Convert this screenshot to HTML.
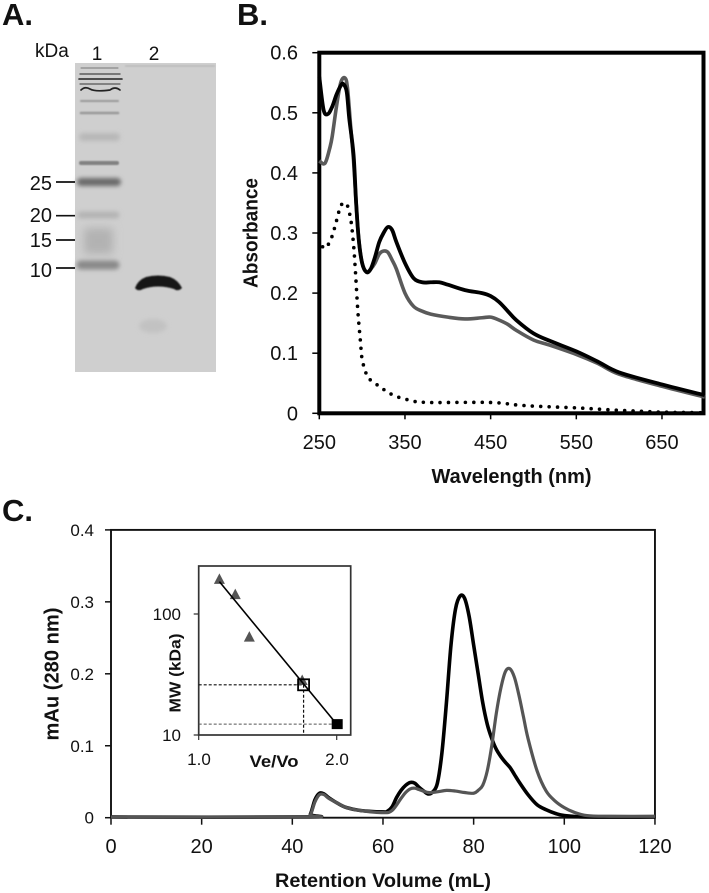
<!DOCTYPE html>
<html lang="en">
<head>
<meta charset="utf-8">
<title>Protein characterization figure</title>
<style>
html,body{margin:0;padding:0;background:#fff;width:709px;height:893px;overflow:hidden}
svg{display:block;filter:blur(0.35px)}
text{font-family:"Liberation Sans",sans-serif;fill:#111}
.b{font-weight:bold}
</style>
</head>
<body>
<svg id="fig" xmlns="http://www.w3.org/2000/svg" width="709" height="893" viewBox="0 0 709 893">
<defs>
<filter id="b1" filterUnits="userSpaceOnUse" x="60" y="50" width="170" height="330"><feGaussianBlur stdDeviation="0.7"/></filter>
<filter id="b2" filterUnits="userSpaceOnUse" x="60" y="50" width="170" height="330"><feGaussianBlur stdDeviation="2.2"/></filter>
<filter id="b3" filterUnits="userSpaceOnUse" x="60" y="50" width="170" height="330"><feGaussianBlur stdDeviation="4.5"/></filter>
</defs>

<text class="b" x="2" y="25" font-size="31">A.</text>
<text class="b" x="237" y="25" font-size="31">B.</text>
<text class="b" x="2" y="521" font-size="31">C.</text>

<g>
  <rect x="75" y="63" width="141" height="309" fill="#cfcfcf"/>
  <rect x="125" y="65.5" width="90" height="1" fill="#b0b0b0" filter="url(#b1)"/>
  <g fill="none" stroke-linecap="round">
    <path d="M81 68H118" stroke="#777" stroke-width="1"/>
    <path d="M80 74H120" stroke="#444" stroke-width="1.3"/>
    <path d="M79 79H122" stroke="#222" stroke-width="1.6"/>
    <path d="M80 84H120" stroke="#555" stroke-width="1.2"/>
    <path d="M81 90Q85 86 90 89T110 90Q115 86 120 90" stroke="#222" stroke-width="1.7"/>
    <path d="M81 101H118" stroke="#999" stroke-width="2" filter="url(#b1)"/>
    <path d="M81 113H118" stroke="#999" stroke-width="2.6" filter="url(#b1)"/>
    <path d="M83 137H116" stroke="#b8b8b8" stroke-width="8" filter="url(#b2)"/>
    <path d="M81 163H117" stroke="#808080" stroke-width="4" filter="url(#b1)"/>
    <path d="M81 182H117" stroke="#6a6a6a" stroke-width="8" filter="url(#b2)"/>
    <path d="M81 215H116" stroke="#b4b4b4" stroke-width="7" filter="url(#b2)"/>
    <path d="M84 241H113" stroke="#b2b2b2" stroke-width="26" filter="url(#b3)" stroke-linecap="butt"/>
    <path d="M81 265H115" stroke="#8a8a8a" stroke-width="9" filter="url(#b2)"/>
  </g>
  <path d="M135 288Q138 280 146 277Q158 274 170 277Q178 280 182 288Q178 292 174 289Q158 284 143 289Q138 292 135 288Z" fill="#141414" filter="url(#b1)"/>
  <ellipse cx="153" cy="326" rx="14" ry="7" fill="#c2c2c2" filter="url(#b2)"/>
</g>

<g>
  <text x="35" y="57" font-size="19">kDa</text>
  <text x="97" y="60" font-size="19" text-anchor="middle">1</text>
  <text x="154" y="60" font-size="19" text-anchor="middle">2</text>
  <text x="52" y="190" font-size="20" text-anchor="end">25</text>
  <text x="52" y="222" font-size="20" text-anchor="end">20</text>
  <text x="52" y="247" font-size="20" text-anchor="end">15</text>
  <text x="52" y="277" font-size="20" text-anchor="end">10</text>
  <path d="M56 182H75M56 215.7H75M56 240H75M56 268H75" stroke="#111" stroke-width="1.7"/>
</g>

<g id="panelB"></g>
<g id="panelC"></g>
<g id="inset"></g>
</svg>

<script>
// Panel B data
const bTicksX = [250, 350, 450, 550, 650];
const bTicksY = [0, 0.1, 0.2, 0.3, 0.4, 0.5, 0.6];
const bTickLabelsY = ['0', '0.1', '0.2', '0.3', '0.4', '0.5', '0.6'];
const bBlackX = [250,255,260,265,270,275,278,282,285,290,293,296,300,305,310,315,320,325,330,335,340,350,360,370,380,390,400,420,440,450,460,470,480,500,520,550,575,600,650,700];
const bBlackY = [.56,.505,.498,.51,.53,.545,.548,.535,.49,.43,.35,.29,.25,.235,.24,.26,.285,.30,.31,.305,.285,.25,.225,.218,.218,.218,.214,.205,.2,.195,.185,.17,.155,.133,.12,.103,.086,.068,.048,.03];
const bGrayX = [250,255,258,262,265,270,275,280,283,287,290,293,296,300,305,310,315,320,325,330,335,340,350,360,370,380,400,420,440,450,460,470,480,500,520,550,575,600,650,700];
const bGrayY = [.42,.415,.42,.44,.46,.51,.55,.558,.54,.47,.42,.35,.29,.25,.235,.24,.25,.265,.27,.268,.255,.24,.20,.178,.17,.165,.16,.157,.159,.16,.155,.148,.138,.122,.113,.098,.083,.065,.045,.027];
const bDotX = [250,255,260,265,270,275,280,283,287,290,292,295,298,300,305,310,320,330,340,350,360,380,450,480,500,550,600,650,700];
const bDotY = [.29,.275,.28,.295,.32,.345,.35,.345,.32,.28,.24,.17,.12,.09,.065,.055,.045,.035,.028,.024,.02,.018,.018,.014,.012,.009,.005,.002,.001];

// Panel C data
const cTicksX = [0, 20, 40, 60, 80, 100, 120];
const cTicksY = [0, 0.1, 0.2, 0.3, 0.4];
const cTickLabelsY = ['0', '0.1', '0.2', '0.3', '0.4'];
const cBlackX = [0,43,44,45,46,47,48,50,52,55,60,61,62,63,64,65,66,67,68,69,70,71,72,73,74,75,76,77,78,79,80,81,82,83,84,85,86,87,88,89,90,92,94,96,98,100,105,120];
const cBlackY = [.001,.001,.005,.025,.034,.033,.028,.02,.014,.01,.008,.009,.015,.028,.038,.045,.049,.048,.042,.037,.033,.036,.048,.09,.16,.24,.29,.308,.305,.28,.24,.2,.16,.13,.11,.095,.085,.077,.07,.06,.05,.032,.018,.011,.006,.003,.001,.001];
const cGrayX = [0,43,44,45,46,47,48,50,52,55,60,62,64,65,66,67,68,70,72,74,76,78,80,81,82,83,84,85,86,87,88,89,90,91,92,94,96,98,100,102,105,110,120];
const cGrayY = [.001,.001,.004,.022,.032,.032,.027,.02,.014,.01,.007,.01,.027,.035,.04,.041,.039,.035,.036,.038,.037,.035,.034,.038,.045,.065,.1,.145,.18,.203,.207,.195,.17,.14,.11,.065,.037,.023,.014,.008,.003,.002,.002];

// Inset data
const insetTriRatio = [1.15, 1.265, 1.367, 1.75];
const insetTriMW = [195, 146, 65, 28.5];
const insetLineRatio = [1.15, 2.0];
const insetLineMW = [185, 12.3];
const insetUnknownRatio = 1.76;
const insetUnknownMW = 26;
const insetRefRatio = 2.0;
const insetRefMW = 12.3;

const NS = 'http://www.w3.org/2000/svg';
function make(parent, tag, attrs, txt) {
  const n = document.createElementNS(NS, tag);
  for (const k in attrs) n.setAttribute(k, attrs[k]);
  if (txt !== undefined) n.textContent = txt;
  parent.appendChild(n);
  return n;
}
function smooth(xs, ys, sx, sy) {
  const p = xs.map((x, i) => [sx(x), sy(ys[i])]);
  let d = 'M' + p[0][0].toFixed(2) + ' ' + p[0][1].toFixed(2);
  for (let i = 0; i < p.length - 1; i++) {
    const a = p[Math.max(i - 1, 0)], b = p[i], c = p[i + 1], e = p[Math.min(i + 2, p.length - 1)];
    const c1x = b[0] + (c[0] - a[0]) / 6, c1y = b[1] + (c[1] - a[1]) / 6;
    const c2x = c[0] - (e[0] - b[0]) / 6, c2y = c[1] - (e[1] - b[1]) / 6;
    d += 'C' + [c1x, c1y, c2x, c2y, c[0], c[1]].map(v => v.toFixed(2)).join(' ');
  }
  return d;
}

// ---------- Panel B ----------
const gB = document.getElementById('panelB');
const bx = v => 319.3 + (v - 250) * 0.8567;
const by = v => 413.3 - v * 601;

const bFrame = make(gB, 'rect', {x: bx(250), y: by(0.6), width: 703.5 - bx(250), height: by(0) - by(0.6), fill: 'none', stroke: '#000', 'stroke-width': 4});



bTicksX.forEach(v => {
  const t = make(gB, 'line', {x1: bx(v), x2: bx(v), y1: by(0), y2: by(0) + 6, stroke: '#000', 'stroke-width': 1.5});
  
  
  const l = make(gB, 'text', {x: bx(v), y: 449, 'font-size': 20, 'text-anchor': 'middle'}, String(v));
  
  
});
bTicksY.forEach((v, i) => {
  const t = make(gB, 'line', {x1: bx(250) - 7, x2: bx(250), y1: by(v), y2: by(v), stroke: '#000', 'stroke-width': 1.5});
  
  
  const l = make(gB, 'text', {x: 298, y: by(v) + 7, 'font-size': 20, 'text-anchor': 'end'}, bTickLabelsY[i]);
  
  
});

const bDot = make(gB, 'path', {d: smooth(bDotX, bDotY, bx, by), fill: 'none', stroke: '#000', 'stroke-width': 3.6, 'stroke-linecap': 'round', 'stroke-dasharray': '0 8.4'});


const bGray = make(gB, 'path', {d: smooth(bGrayX, bGrayY, bx, by), fill: 'none', stroke: '#5a5a5a', 'stroke-width': 3.6});


const bBlack = make(gB, 'path', {d: smooth(bBlackX, bBlackY, bx, by), fill: 'none', stroke: '#000', 'stroke-width': 3.8});



const bXT = make(gB, 'text', {x: 511.5, y: 483, 'font-size': 20, 'text-anchor': 'middle', class: 'b', textLength: 160, lengthAdjust: 'spacingAndGlyphs'}, 'Wavelength (nm)');


const bYT = make(gB, 'text', {x: 0, y: 0, transform: 'translate(257.5 233) rotate(-90)', 'font-size': 20, 'text-anchor': 'middle', class: 'b', textLength: 110, lengthAdjust: 'spacingAndGlyphs'}, 'Absorbance');



// ---------- Panel C ----------
const gC = document.getElementById('panelC');
const cx = v => 111 + v * 4.533;
const cy = v => 817.7 - v * 719.5;

const cFrame = make(gC, 'rect', {x: cx(0), y: cy(0.4), width: cx(120) - cx(0), height: cy(0) - cy(0.4), fill: 'none', stroke: '#111', 'stroke-width': 1.9});



cTicksX.forEach(v => {
  const t = make(gC, 'line', {x1: cx(v), x2: cx(v), y1: cy(0), y2: cy(0) + 7, stroke: '#111', 'stroke-width': 1.5});
  
  
  const l = make(gC, 'text', {x: cx(v), y: 853, 'font-size': 20, 'text-anchor': 'middle'}, String(v));
  
  
});
cTicksY.forEach((v, i) => {
  const t = make(gC, 'line', {x1: cx(0) - 6, x2: cx(0), y1: cy(v), y2: cy(v), stroke: '#111', 'stroke-width': 1.5});
  
  
  const l = make(gC, 'text', {x: 94, y: cy(v) + 6, 'font-size': 17, 'text-anchor': 'end'}, cTickLabelsY[i]);
  
  
});

const cBlack = make(gC, 'path', {d: smooth(cBlackX, cBlackY, cx, cy), fill: 'none', stroke: '#000', 'stroke-width': 3.6});


const cGray = make(gC, 'path', {d: smooth(cGrayX, cGrayY, cx, cy), fill: 'none', stroke: '#555', 'stroke-width': 3.2});



const cXT = make(gC, 'text', {x: 383, y: 887, 'font-size': 19, 'text-anchor': 'middle', class: 'b', textLength: 216, lengthAdjust: 'spacingAndGlyphs'}, 'Retention Volume (mL)');


const cYT = make(gC, 'text', {x: 0, y: 0, transform: 'translate(58.5 674) rotate(-90)', 'font-size': 20, 'text-anchor': 'middle', class: 'b', textLength: 133, lengthAdjust: 'spacingAndGlyphs'}, 'mAu (280 nm)');



// ---------- Inset ----------
const gI = document.getElementById('inset');
const ix = v => 198.7 + (v - 1) * 138;
const iy = v => 735 - (Math.log10(v) - 1) * 121;

const iFrame = make(gI, 'rect', {x: 198.7, y: 566, width: 152, height: 169, fill: '#fff', stroke: '#333', 'stroke-width': 1.7});



const iDash1 = make(gI, 'line', {x1: ix(1), x2: ix(insetUnknownRatio), y1: iy(insetUnknownMW), y2: iy(insetUnknownMW), stroke: '#111', 'stroke-width': 1.2, 'stroke-dasharray': '3 2'});


const iDash2 = make(gI, 'line', {x1: ix(insetUnknownRatio), x2: ix(insetUnknownRatio), y1: iy(insetUnknownMW), y2: iy(10), stroke: '#111', 'stroke-width': 1.2, 'stroke-dasharray': '3 2'});


const iDash3 = make(gI, 'line', {x1: ix(1), x2: ix(insetRefRatio), y1: iy(insetRefMW), y2: iy(insetRefMW), stroke: '#555', 'stroke-width': 1.1, 'stroke-dasharray': '3 2'});



insetTriRatio.forEach((r, i) => {
  const x = ix(r), y = iy(insetTriMW[i]);
  const t = make(gI, 'polygon', {points: (x - 5.5) + ',' + (y + 5) + ' ' + (x + 5.5) + ',' + (y + 5) + ' ' + x + ',' + (y - 5.5), fill: '#555'});
  
  
});
const iFit = make(gI, 'line', {x1: ix(insetLineRatio[0]), y1: iy(insetLineMW[0]), x2: ix(insetLineRatio[1]), y2: iy(insetLineMW[1]), stroke: '#000', 'stroke-width': 1.6});


const iOpen = make(gI, 'rect', {x: ix(insetUnknownRatio) - 5.5, y: iy(insetUnknownMW) - 5.5, width: 11, height: 11, fill: 'none', stroke: '#000', 'stroke-width': 1.8});


const iFill = make(gI, 'rect', {x: ix(insetRefRatio) - 5, y: iy(insetRefMW) - 5, width: 11, height: 10, fill: '#000'});



const iTicks = make(gI, 'path', {d: 'M' + ix(1) + ' 735v5M' + ix(2) + ' 735v5M198.7 ' + iy(100) + 'h-5M198.7 ' + iy(10) + 'h-5', stroke: '#333', 'stroke-width': 1.2, fill: 'none'});



const iL1 = make(gI, 'text', {x: 181, y: 620, 'font-size': 17, 'text-anchor': 'end'}, '100');


const iL2 = make(gI, 'text', {x: 181, y: 741, 'font-size': 17, 'text-anchor': 'end'}, '10');


const iL3 = make(gI, 'text', {x: 199, y: 765, 'font-size': 17, 'text-anchor': 'middle'}, '1.0');


const iL4 = make(gI, 'text', {x: 337, y: 765, 'font-size': 17, 'text-anchor': 'middle'}, '2.0');


const iXT = make(gI, 'text', {x: 274, y: 767, 'font-size': 17, 'text-anchor': 'middle', class: 'b', textLength: 49, lengthAdjust: 'spacingAndGlyphs'}, 'Ve/Vo');


const iYT = make(gI, 'text', {x: 0, y: 0, transform: 'translate(180.5 673) rotate(-90)', 'font-size': 16, 'text-anchor': 'middle', class: 'b', textLength: 79, lengthAdjust: 'spacingAndGlyphs'}, 'MW (kDa)');


</script>
</body>
</html>
